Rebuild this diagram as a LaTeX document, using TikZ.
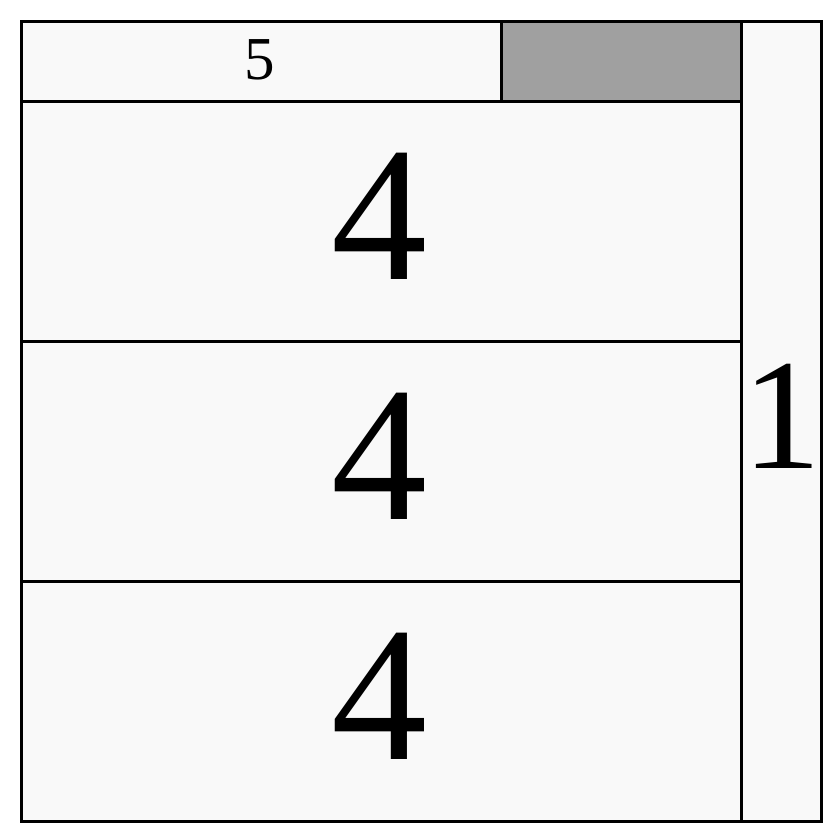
\documentclass[tikz,border=0pt]{standalone}
\usepackage{fontspec}
\setmainfont{Liberation Serif}
\usetikzlibrary{positioning}
\definecolor{paper}{HTML}{F9F9F9}
\definecolor{shade}{HTML}{A0A0A0}

\begin{document}
\begin{tikzpicture}[x=1pt, y=-1pt,
    cell/.style={rectangle, draw=black, line width=3pt, fill=paper,
      inner sep=0pt, anchor=north west},
    big/.style={font=\fontsize{192}{196}\selectfont, inner sep=0pt},
    mid/.style={font=\fontsize{158}{162}\selectfont, inner sep=0pt},
    small/.style={font=\fontsize{61}{64}\selectfont, inner sep=0pt}]
  \useasboundingbox (0,0) rectangle (840,840);
  % top strip: label cell and shaded cell
  \node[cell, minimum width=480pt, minimum height=80pt] (top) at (20,20) {};
  \node[cell, fill=shade, minimum width=240pt, minimum height=80pt] (grey) at (500,20) {};
  % three equal rows
  \foreach \i/\y in {1/100, 2/340, 3/580}
    \node[cell, minimum width=720pt, minimum height=240pt] (row\i) at (20,\y) {};
  % right column spanning full height
  \node[cell, minimum width=80pt, minimum height=800pt] (side) at (740,20) {};
  % labels
  \node[small] (toplbl) at ([xshift=-2pt, yshift=2pt]top.center) {5};
  \foreach \i in {1,2,3}
    \node[big] (rowlbl\i) at ([xshift=-2pt, yshift=5pt]row\i.center) {4};
  \node[mid] (sidelbl) at ([yshift=5pt]side.center) {1};
\end{tikzpicture}
\end{document}
